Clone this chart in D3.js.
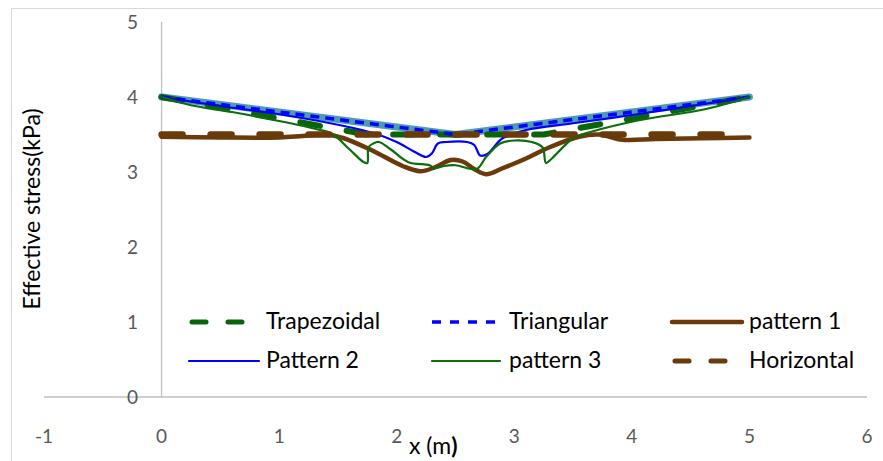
<!DOCTYPE html>
<html lang="en">
	<head>
		<meta charset="utf-8">
		<title>Effective stress</title>
		<script type="text/javascript" src="https://cdn.jsdelivr.net/npm/d3@7"></script>
		<style type="text/css">
			body { margin: 0; background: #fff; }
			text { font-family: Lato, "Open Sans", sans-serif; }
		</style>
	</head>
	<body>
		<script type="text/javascript">

			//Tick values
			var xTicks = [-1, 0, 1, 2, 3, 4, 5, 6];
			var yTicks = [0, 1, 2, 3, 4, 5];

			//Series, [x (m), effective stress (kPa)]
			var trapezoidal = [[0, 4], [1.75, 3.5], [3.25, 3.5], [5, 4]];
			var triangular = [[0, 4], [2.5, 3.5], [5, 4]];
			var horizontal = [[0, 3.5], [5, 3.5]];
			var pattern1 = [[0, 3.47], [0.5, 3.46], [1.0, 3.46], [1.2, 3.48], [1.4, 3.5], [1.55, 3.45],
				[1.8, 3.28], [2.05, 3.08], [2.2, 3.01], [2.32, 3.06], [2.46, 3.16], [2.56, 3.14],
				[2.66, 3.04], [2.76, 2.97], [2.9, 3.05], [3.1, 3.18], [3.3, 3.33], [3.55, 3.47],
				[3.72, 3.5], [3.92, 3.43], [4.2, 3.44], [4.6, 3.45], [5, 3.46]];
			var pattern2 = [[0, 4], [0.5, 3.88], [1, 3.77], [1.5, 3.63], [1.8, 3.52], [2.0, 3.4],
				[2.15, 3.27], [2.25, 3.2], [2.3, 3.25], [2.35, 3.38], [2.42, 3.4], [2.6, 3.4],
				[2.66, 3.36], [2.71, 3.22], [2.77, 3.24], [2.9, 3.45], [3.1, 3.56], [3.5, 3.65],
				[4, 3.76], [4.5, 3.88], [5, 4]];
			var pattern3 = [[0, 4], [0.25, 3.89], [0.6, 3.8], [1.0, 3.68], [1.32, 3.57], [1.45, 3.51],
				[1.6, 3.3], [1.72, 3.13], [1.75, 3.12], [1.76, 3.33], [1.8, 3.38], [1.85, 3.4],
				[1.95, 3.3], [2.1, 3.13], [2.28, 3.09], [2.32, 3.05], [2.4, 3.08], [2.5, 3.09],
				[2.68, 3.04], [2.76, 3.2], [2.88, 3.38], [3.0, 3.42], [3.15, 3.4], [3.24, 3.33],
				[3.27, 3.12], [3.32, 3.18], [3.5, 3.45], [3.64, 3.53], [4.06, 3.69], [4.63, 3.84], [5, 4]];

			//Width and height
			var w = 883;
			var h = 461;

			var xScale = d3.scaleLinear().domain([-1, 6]).range([44, 867]);
			var yScale = d3.scaleLinear().domain([0, 5]).range([397, 22]);

			var svg = d3.select("body")
						.append("svg")
						.attr("width", w)
						.attr("height", h);

			//Chart border
			svg.append("rect")
				.attr("x", 11.5).attr("y", 8.5)
				.attr("width", 900).attr("height", 500)
				.attr("fill", "none")
				.attr("stroke", "#d9d9d9");

			//Axis lines
			svg.append("line")
				.attr("x1", xScale(-1)).attr("x2", xScale(6))
				.attr("y1", yScale(0)).attr("y2", yScale(0))
				.attr("stroke", "#bfbfbf").attr("stroke-width", 1.3);
			svg.append("line")
				.attr("x1", xScale(0)).attr("x2", xScale(0))
				.attr("y1", yScale(0)).attr("y2", yScale(5))
				.attr("stroke", "#bfbfbf").attr("stroke-width", 1.3);

			//Tick labels
			svg.selectAll(".xtick")
				.data(xTicks)
				.enter()
				.append("text")
				.attr("class", "xtick")
				.attr("x", function(d) { return xScale(d); })
				.attr("y", 443)
				.attr("text-anchor", "middle")
				.attr("fill", "#595959")
				.attr("font-size", 19)
				.text(function(d) { return d; });

			svg.selectAll(".ytick")
				.data(yTicks)
				.enter()
				.append("text")
				.attr("class", "ytick")
				.attr("x", 138)
				.attr("y", function(d) { return yScale(d); })
				.attr("dy", "0.36em")
				.attr("text-anchor", "end")
				.attr("fill", "#595959")
				.attr("font-size", 19)
				.text(function(d) { return d; });

			//Axis titles
			var xt = svg.append("text")
				.attr("x", 409)
				.attr("y", 454)
				.attr("font-size", 23)
				.attr("fill", "#000");
			xt.append("tspan").text("x (m");
			xt.append("tspan").attr("font-weight", "bold").text(")");

			svg.append("text")
				.attr("transform", "translate(40,209) rotate(-90)")
				.attr("text-anchor", "middle")
				.attr("font-size", 23)
				.attr("fill", "#000")
				.text("Effective stress(kPa)");

			var line = d3.line()
				.x(function(d) { return xScale(d[0]); })
				.y(function(d) { return yScale(d[1]); });
			var smooth = d3.line()
				.curve(d3.curveCatmullRom.alpha(0.5))
				.x(function(d) { return xScale(d[0]); })
				.y(function(d) { return yScale(d[1]); });

			var series = [
				{ name: "", data: triangular, gen: line, color: "#4e9cb3", width: 7, dash: null, cap: "round" },
				{ name: "Trapezoidal", data: trapezoidal, gen: line, color: "#0a640a", width: 6, dash: "20 27", cap: "round" },
				{ name: "Triangular", data: triangular, gen: line, color: "#0000ff", width: 3.5, dash: "9 6", cap: "butt" },
				{ name: "pattern 1", data: pattern1, gen: smooth, color: "#6b3a0b", width: 4.5, dash: null, cap: "round" },
				{ name: "Pattern 2", data: pattern2, gen: smooth, color: "#0000ff", width: 2.2, dash: null, cap: "round" },
				{ name: "pattern 3", data: pattern3, gen: smooth, color: "#0b6e0b", width: 2.2, dash: null, cap: "round" },
				{ name: "Horizontal", data: horizontal, gen: line, color: "#6b3a0b", width: 6.5, dash: "21 28", cap: "round" }
			];

			svg.selectAll(".series")
				.data(series)
				.enter()
				.append("path")
				.attr("class", "series")
				.attr("d", function(d) { return d.gen(d.data); })
				.attr("fill", "none")
				.attr("stroke", function(d) { return d.color; })
				.attr("stroke-width", function(d) { return d.width; })
				.attr("stroke-dasharray", function(d) { return d.dash; })
				.attr("stroke-linecap", function(d) { return d.cap; })
				.attr("stroke-linejoin", "round");

			//Legend
			var legend = [
				{ s: series[1], x: 189, y: 322, x1: 3, x2: 53, dash: "14 22" },
				{ s: series[2], x: 432, y: 322, x1: 0, x2: 63, dash: "9 9" },
				{ s: series[3], x: 672, y: 322, x1: 0, x2: 70, dash: null },
				{ s: series[4], x: 189, y: 361, x1: 0, x2: 70, dash: null },
				{ s: series[5], x: 432, y: 361, x1: 0, x2: 68, dash: null },
				{ s: series[6], x: 672, y: 361, x1: 3, x2: 53, dash: "14 22" }
			];

			var items = svg.selectAll(".legend")
				.data(legend)
				.enter()
				.append("g")
				.attr("class", "legend");

			items.append("line")
				.attr("x1", function(d) { return d.x + d.x1; })
				.attr("x2", function(d) { return d.x + d.x2; })
				.attr("y1", function(d) { return d.y; })
				.attr("y2", function(d) { return d.y; })
				.attr("stroke", function(d) { return d.s.color; })
				.attr("stroke-width", function(d) { return Math.min(d.s.width, 5); })
				.attr("stroke-dasharray", function(d) { return d.dash; })
				.attr("stroke-linecap", function(d) { return d.s.cap; });

			items.append("text")
				.attr("x", function(d) { return d.x + 77; })
				.attr("y", function(d) { return d.y + 7; })
				.attr("font-size", 23)
				.attr("fill", "#000")
				.text(function(d) { return d.s.name; });

		</script>
	</body>
</html>
